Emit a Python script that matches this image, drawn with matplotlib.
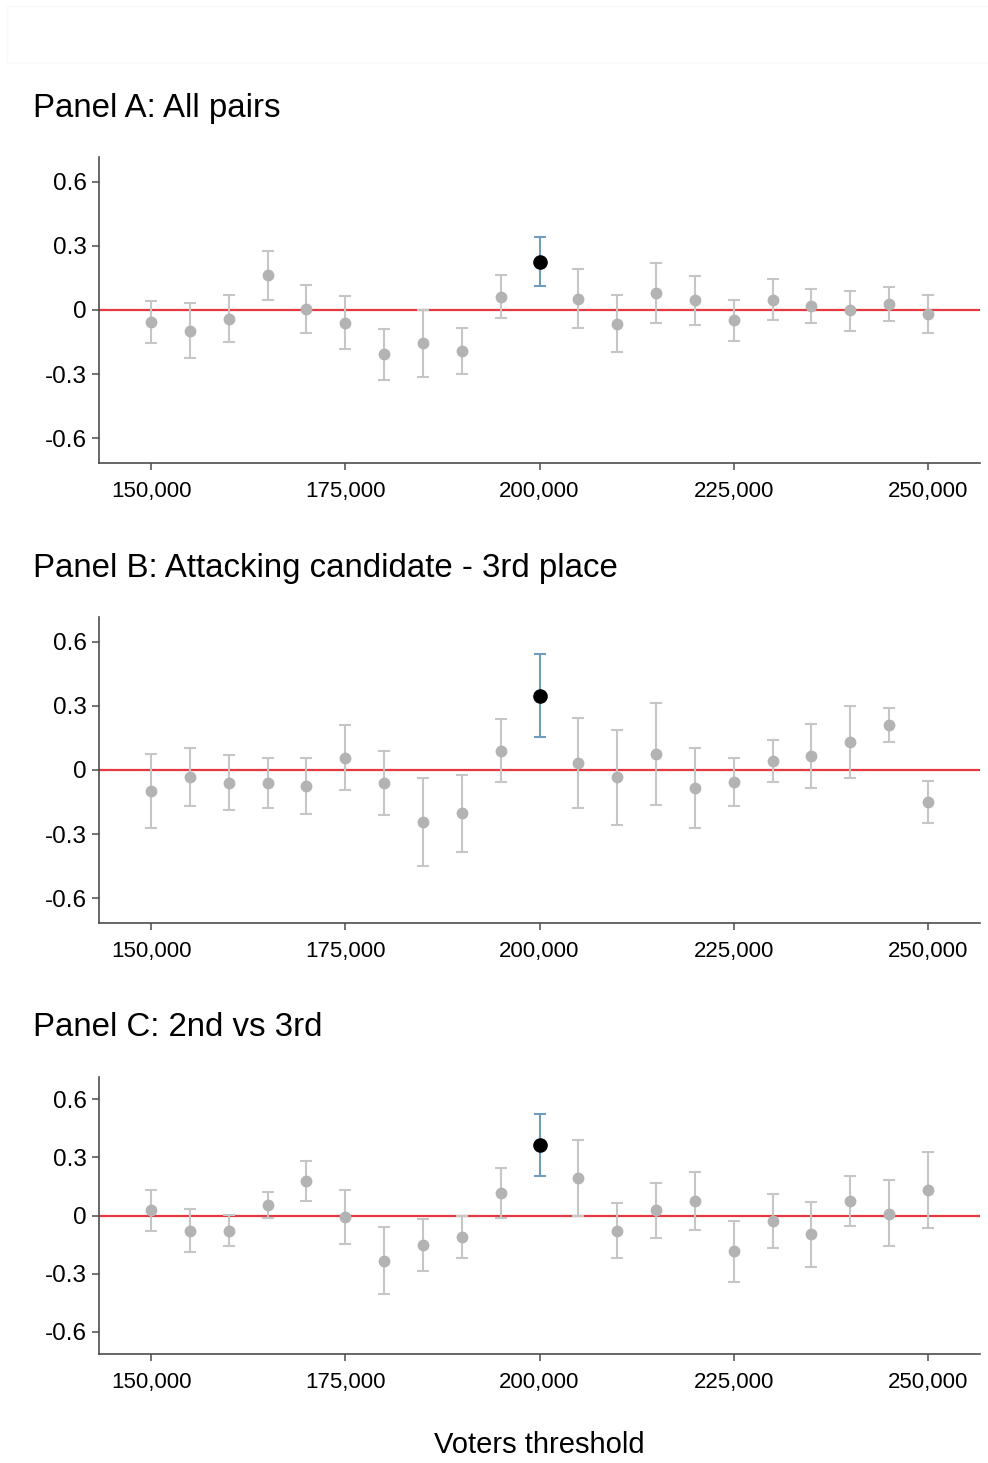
import numpy as np
import matplotlib
matplotlib.use("Agg")
import matplotlib.pyplot as plt
from matplotlib.patches import Rectangle
from matplotlib.ticker import FuncFormatter

plt.rcParams['font.family'] = ['Liberation Sans', 'DejaVu Sans']

# thresholds (number of voters)
thresholds = np.arange(150000, 255000, 5000)
highlight = 200000

# Panel A: All pairs
est_a = [-0.056, -0.096, -0.042, 0.164, 0.005, -0.059, -0.206, -0.156, -0.190, 0.063,
         0.224, 0.053, -0.065, 0.079, 0.045, -0.048, 0.049, 0.020, -0.002, 0.026, -0.019]
lo_a = [-0.152, -0.223, -0.150, 0.049, -0.107, -0.182, -0.325, -0.315, -0.298, -0.039,
        0.110, -0.085, -0.198, -0.062, -0.068, -0.145, -0.048, -0.059, -0.096, -0.051, -0.107]
hi_a = [0.040, 0.031, 0.070, 0.278, 0.116, 0.065, -0.087, 0.000, -0.082, 0.164,
        0.342, 0.192, 0.070, 0.218, 0.159, 0.048, 0.147, 0.099, 0.091, 0.108, 0.070]

# Panel B: Attacking candidate - 3rd place
est_b = [-0.099, -0.034, -0.060, -0.062, -0.077, 0.057, -0.060, -0.241, -0.203, 0.091,
         0.348, 0.032, -0.034, 0.076, -0.085, -0.056, 0.040, 0.065, 0.131, 0.209, -0.148]
lo_b = [-0.271, -0.170, -0.189, -0.179, -0.207, -0.093, -0.210, -0.447, -0.382, -0.054,
        0.153, -0.178, -0.255, -0.164, -0.271, -0.167, -0.057, -0.085, -0.039, 0.130, -0.246]
hi_b = [0.073, 0.104, 0.068, 0.056, 0.054, 0.209, 0.090, -0.036, -0.023, 0.238,
        0.543, 0.243, 0.187, 0.315, 0.104, 0.056, 0.141, 0.215, 0.301, 0.288, -0.051]

# Panel C: 2nd vs 3rd
est_c = [0.028, -0.078, -0.078, 0.053, 0.176, -0.007, -0.233, -0.150, -0.110, 0.114,
         0.362, 0.193, -0.078, 0.026, 0.074, -0.184, -0.026, -0.097, 0.074, 0.009, 0.133]
lo_c = [-0.078, -0.188, -0.159, -0.014, 0.074, -0.147, -0.405, -0.284, -0.217, -0.014,
        0.202, -0.002, -0.219, -0.117, -0.074, -0.343, -0.166, -0.266, -0.055, -0.160, -0.062]
hi_c = [0.133, 0.031, 0.003, 0.121, 0.281, 0.133, -0.057, -0.017, -0.003, 0.243,
        0.524, 0.388, 0.066, 0.169, 0.222, -0.026, 0.112, 0.071, 0.203, 0.181, 0.326]

titles = ["Panel A: All pairs", "Panel B: Attacking candidate - 3rd place", "Panel C: 2nd vs 3rd"]
yticks = [-0.6, -0.3, 0, 0.3, 0.6]
ytick_labels = ["-0.6", "-0.3", "0", "0.3", "0.6"]
xticks = [150000, 175000, 200000, 225000, 250000]

W, H = 988, 1463
fig = plt.figure(figsize=(W / 100, H / 100), dpi=100)
fig.patch.set_facecolor('white')

# very faint frame at the very top
fig.patches.append(Rectangle((7 / W, 1 - 63 / H), 1, 57 / H, transform=fig.transFigure,
                             facecolor='none', edgecolor='#F9F9F9', linewidth=1))

# axes boxes in pixels: (top, bottom)
boxes = [(157, 463), (617, 923), (1077, 1354)]
title_y = [108, 568, 1028]
left_px, right_px = 99, 980

grey_bar = '#C6C6C6'
grey_pt = '#B3B3B3'
blue_bar = '#6F9DBB'
red = '#E5393F'
spine_c = '#4D4D4D'

panels = [(est_a, lo_a, hi_a), (est_b, lo_b, hi_b), (est_c, lo_c, hi_c)]

for i, (est, lo, hi) in enumerate(panels):
    top, bot = boxes[i]
    ax = fig.add_axes([left_px / W, 1 - bot / H, (right_px - left_px) / W, (bot - top) / H])
    est = np.array(est)
    lo = np.array(lo)
    hi = np.array(hi)
    mask = thresholds == highlight

    ax.axhline(0, color=red, linewidth=1.6, zorder=1)

    # regular estimates
    ax.errorbar(thresholds[~mask], est[~mask],
                yerr=[est[~mask] - lo[~mask], hi[~mask] - est[~mask]],
                fmt='o', color=grey_pt, ecolor=grey_bar, elinewidth=1.5, capsize=4,
                capthick=1.5, markersize=7.5, zorder=2)
    # highlighted estimate
    ax.errorbar(thresholds[mask], est[mask],
                yerr=[est[mask] - lo[mask], hi[mask] - est[mask]],
                fmt='o', color='black', ecolor=blue_bar, elinewidth=1.5, capsize=4,
                capthick=1.5, markersize=9.5, zorder=3)

    ax.set_xlim(143300, 256700)
    ax.set_ylim(-0.715, 0.715)
    ax.set_yticks(yticks)
    ax.set_yticklabels(ytick_labels)
    ax.set_xticks(xticks)
    ax.xaxis.set_major_formatter(FuncFormatter(lambda v, p: f"{int(v):,}"))

    for s in ['top', 'right']:
        ax.spines[s].set_visible(False)
    for s in ['left', 'bottom']:
        ax.spines[s].set_color(spine_c)
        ax.spines[s].set_linewidth(1.2)
    ax.tick_params(axis='both', direction='out', length=5, width=1.1, color=spine_c,
                   labelcolor='black')
    ax.tick_params(axis='x', pad=8, labelsize=16)
    ax.tick_params(axis='y', pad=4, labelsize=17.5)

    fig.text(33 / W, 1 - title_y[i] / H, titles[i], fontsize=23.8, ha='left', va='center')

fig.text((left_px + right_px) / 2 / W, 1 - 1445 / H, "Voters threshold",
         fontsize=21, ha='center', va='center')

fig.savefig("out.png", dpi=100)
